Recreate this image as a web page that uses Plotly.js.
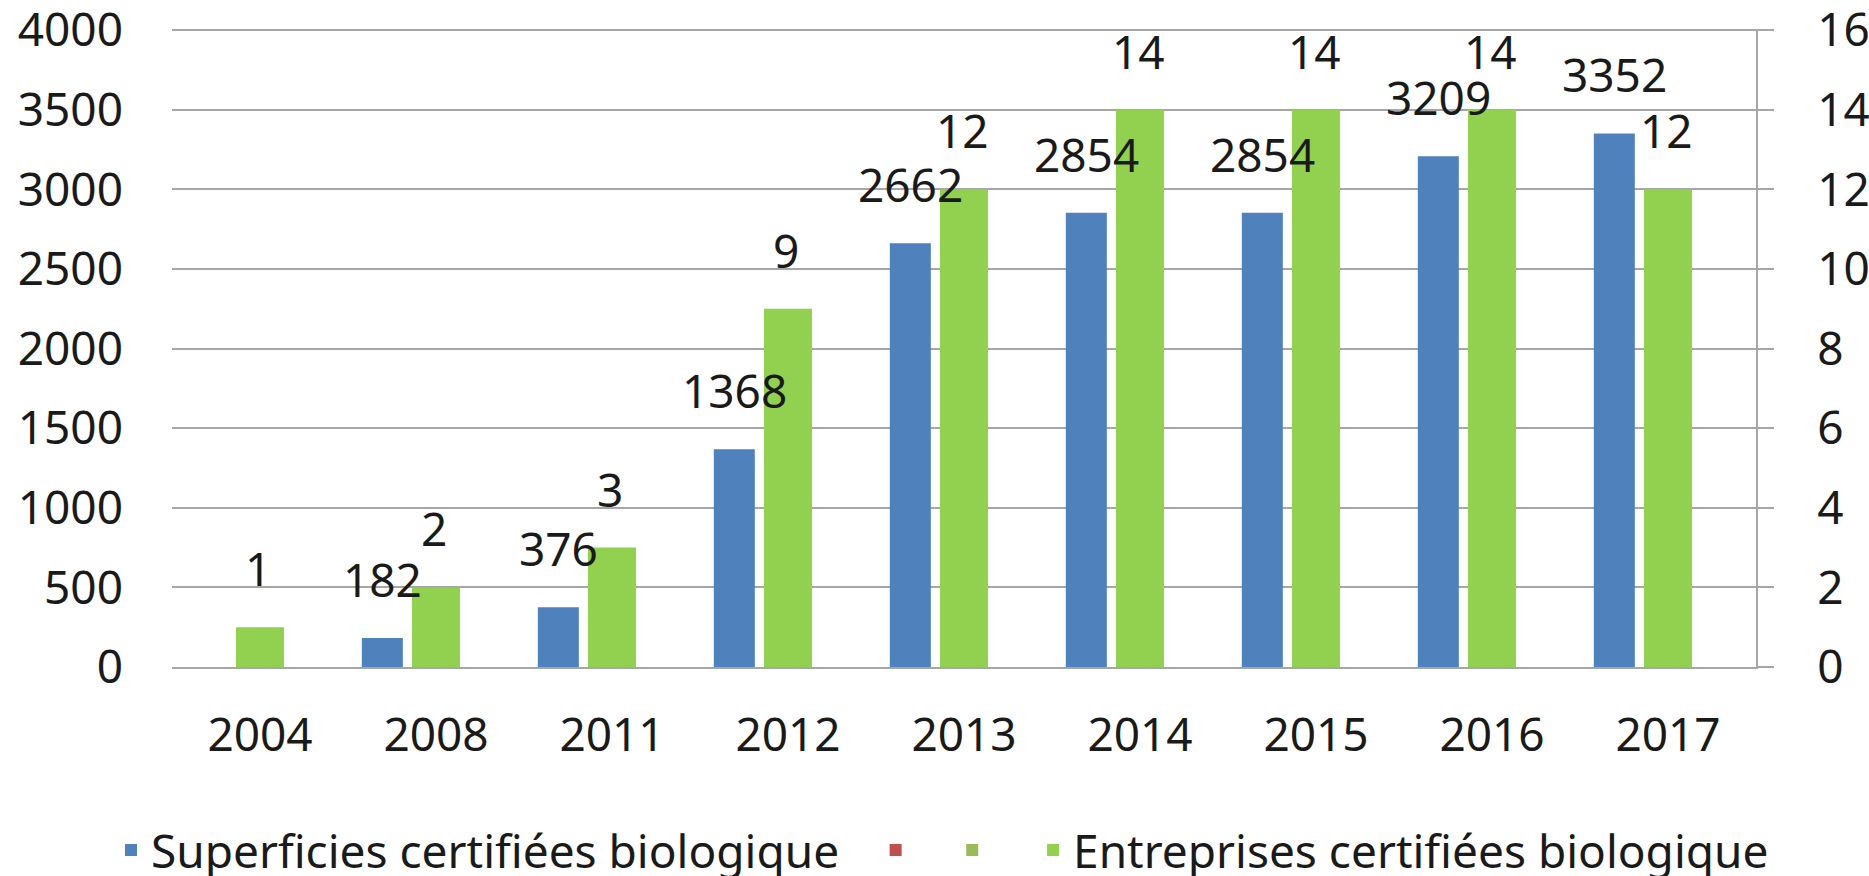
<!DOCTYPE html>
<html>
<head>
<meta charset="utf-8">
<script src="https://cdn.plot.ly/plotly-3.0.1.min.js"></script>
<style>html,body{margin:0;padding:0;background:#fff;}#chart{width:1869px;height:876px;}</style>
</head>
<body>
<div id="chart"></div>
<script>
// ---- data ----
const years = ["2004", "2008", "2011", "2012", "2013", "2014", "2015", "2016", "2017"];
const superficies = [null, 182, 376, 1368, 2662, 2854, 2854, 3209, 3352];
const entreprises = [1, 2, 3, 9, 12, 14, 14, 14, 12];
const serie2 = [null, null, null, null, null, null, null, null, null];
const serie3 = [null, null, null, null, null, null, null, null, null];
const nameSuperficies = "Superficies certifiées biologique";
const nameSerie2 = "";
const nameSerie3 = "";
const nameEntreprises = "Entreprises certifiées biologique";
const leftTicks = [0, 500, 1000, 1500, 2000, 2500, 3000, 3500, 4000];
const rightTicks = [0, 2, 4, 6, 8, 10, 12, 14, 16];

// ---- styles ----
const FONT = "Noto Sans, DejaVu Sans, sans-serif";
const FS = 46;
const GRID = "#a6a6a6";
const TXT = "#1a1a1a";
const BLUE = "#4f81bd", RED = "#c0504d", OLIVE = "#9bbb59", GREEN = "#92d050";
const blueW = 0.233, blueOff = -0.4215;
const greenW = 0.273, greenOff = -0.1365;
const NB = "\u00a0", THIN = "\u2009";

const traces = [
  {type: "bar", x: years, y: superficies, name: nameSuperficies + NB + NB + THIN, marker: {color: BLUE},
   width: blueW, offset: blueOff, yaxis: "y"},
  {type: "bar", x: years, y: serie2, name: nameSerie2 + NB + NB + THIN, marker: {color: RED},
   width: blueW, offset: blueOff, yaxis: "y"},
  {type: "bar", x: years, y: serie3, name: nameSerie3 + NB + NB + NB, marker: {color: OLIVE},
   width: blueW, offset: blueOff, yaxis: "y"},
  {type: "bar", x: years, y: entreprises, name: nameEntreprises, marker: {color: GREEN},
   width: greenW, offset: greenOff, yaxis: "y2"}
];

const annotations = [];
years.forEach((yr, i) => {
  if (superficies[i] !== null) {
    annotations.push({x: i, y: superficies[i], xref: "x", yref: "y", text: String(superficies[i]),
      showarrow: false, yanchor: "bottom", xanchor: "center", xshift: -0.305 * 176, yshift: 26,
      font: {family: FONT, size: FS, color: TXT}});
  }
  annotations.push({x: i, y: entreprises[i], xref: "x", yref: "y2", text: String(entreprises[i]),
    showarrow: false, yanchor: "bottom", xanchor: "center", xshift: -2, yshift: 26,
    font: {family: FONT, size: FS, color: TXT}});
});

const layout = {
  width: 1869, height: 876,
  margin: {l: 172, r: 113, t: 29, b: 209, autoexpand: false},
  paper_bgcolor: "#ffffff", plot_bgcolor: "#ffffff",
  font: {family: FONT, size: FS, color: TXT},
  barmode: "overlay",
  showlegend: true,
  legend: {orientation: "h", xref: "paper", x: -0.0385, xanchor: "left", yref: "paper", y: -0.287,
    yanchor: "middle", font: {family: FONT, size: FS, color: TXT}, itemwidth: 30, tracegroupgap: 0},
  xaxis: {type: "category", range: [-0.5, 8.5], autorange: false, showgrid: false, showline: true,
    linecolor: GRID, linewidth: 2, ticks: "", ticklabelstandoff: 27,
    tickfont: {family: FONT, size: FS, color: TXT}},
  yaxis: {range: [0, 4008], autorange: false, tickmode: "array", tickvals: leftTicks, showgrid: true,
    gridcolor: GRID, gridwidth: 2, zeroline: false, showline: false, ticks: "", ticklabelstandoff: 48,
    ticklabeloverflow: "allow", tickfont: {family: FONT, size: FS, color: TXT}},
  yaxis2: {range: [0, 16.032], autorange: false, tickmode: "array", tickvals: rightTicks, overlaying: "y",
    side: "right", showgrid: false, zeroline: false, showline: true, linecolor: GRID, linewidth: 2,
    ticks: "outside", ticklen: 16, tickwidth: 2, tickcolor: GRID, ticklabelstandoff: 34,
    ticklabeloverflow: "allow", tickfont: {family: FONT, size: FS, color: TXT}},
  annotations: annotations
};

Plotly.newPlot("chart", traces, layout, {displayModeBar: false, staticPlot: true});
</script>
</body>
</html>
